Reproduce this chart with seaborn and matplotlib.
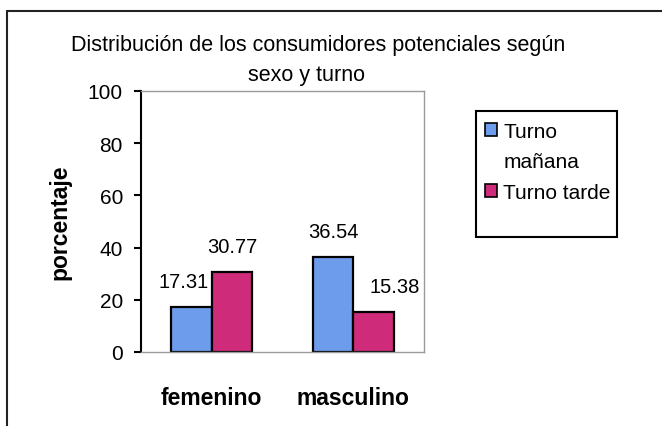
import matplotlib
matplotlib.use('Agg')
import matplotlib.pyplot as plt
from matplotlib.patches import Patch, Rectangle
from matplotlib.lines import Line2D
import seaborn as sns
import pandas as pd

sexos = ['femenino', 'masculino']
turnos = ['Turno mañana', 'Turno tarde']
etiquetas_leyenda = ['Turno', 'mañana', 'Turno tarde']
manana = [17.31, 36.54]
tarde = [30.77, 15.38]
colores = ['#6e9cec', '#cf2b7b']

df = pd.DataFrame({'sexo': sexos * 2,
                   'turno': [turnos[0]] * 2 + [turnos[1]] * 2,
                   'valor': manana + tarde})

sns.set_style('white')
plt.rcParams['font.family'] = ['Liberation Sans', 'DejaVu Sans']
plt.rcParams['text.color'] = 'black'
plt.rcParams['axes.labelcolor'] = 'black'
plt.rcParams['xtick.color'] = 'black'
plt.rcParams['ytick.color'] = 'black'

W, H = 662, 427
fig = plt.figure(figsize=(W / 100, H / 100), dpi=100)
ax = fig.add_axes([141 / W, 1 - 353 / H, 283 / W, 261 / H])

sns.barplot(data=df, x='sexo', y='valor', hue='turno', palette=colores,
            width=0.57, saturation=1, edgecolor='black', linewidth=1.6,
            legend=False, ax=ax)

ax.set_ylim(0, 100)
ax.set_xlim(-0.5, 1.5)
ax.set_yticks(range(0, 101, 20))
ax.tick_params(axis='y', left=True, length=5, width=1.5, labelsize=15, pad=8)
ax.tick_params(axis='x', bottom=False, labelsize=16.5, pad=21)
for t in ax.get_xticklabels():
    t.set_fontweight('bold')
ax.set_xlabel('')
ax.set_ylabel('porcentaje', fontsize=16.5, fontweight='bold')
ax.yaxis.set_label_coords(-0.244, 0.5)

ax.spines['left'].set_color('black')
ax.spines['left'].set_linewidth(1.5)
for s in ['top', 'right', 'bottom']:
    ax.spines[s].set_color('#9a9a9a')
    ax.spines[s].set_linewidth(1)

# etiquetas de valores (desplazamiento en puntos, como en el original)
desfases = [[(-6, 18), (0, 18)], [(0, 18), (15, 18)]]
for cont, des in zip(ax.containers, desfases):
    for barra, (dx, dy) in zip(cont, des):
        ax.annotate(f'{barra.get_height():.2f}',
                    (barra.get_x() + barra.get_width() / 2, barra.get_height()),
                    xytext=(dx, dy), textcoords='offset points',
                    ha='center', va='center', fontsize=14.5)

# titulo en dos lineas
fig.text(318 / W, 1 - 46 / H,
         'Distribución de los consumidores potenciales según',
         ha='center', va='center', fontsize=15.5)
fig.text(306 / W, 1 - 76 / H, 'sexo y turno',
         ha='center', va='center', fontsize=15.5)

handles = [Patch(facecolor=colores[0], edgecolor='black', linewidth=1.2),
           Patch(facecolor='none', edgecolor='none'),
           Patch(facecolor=colores[1], edgecolor='black', linewidth=1.2)]
fig.legend(handles, etiquetas_leyenda, loc='upper left',
           bbox_to_anchor=(485 / W, 1 - 123 / H), frameon=False, fontsize=15,
           handlelength=0.57, handleheight=0.57, handletextpad=0.3,
           labelspacing=0.55, borderpad=0, borderaxespad=0)
fig.add_artist(Rectangle((476 / W, 1 - 238 / H), 141 / W, 126 / H,
                         transform=fig.transFigure, fill=False,
                         edgecolor='black', lw=1.5))

# borde del area del grafico
fig.add_artist(Line2D([7 / W, 1], [1 - 12 / H] * 2, color='#222222', lw=1.5,
                      transform=fig.transFigure))
fig.add_artist(Line2D([7 / W] * 2, [0, 1 - 12 / H], color='#222222', lw=1.5,
                      transform=fig.transFigure))

fig.savefig('out.png', dpi=100)
